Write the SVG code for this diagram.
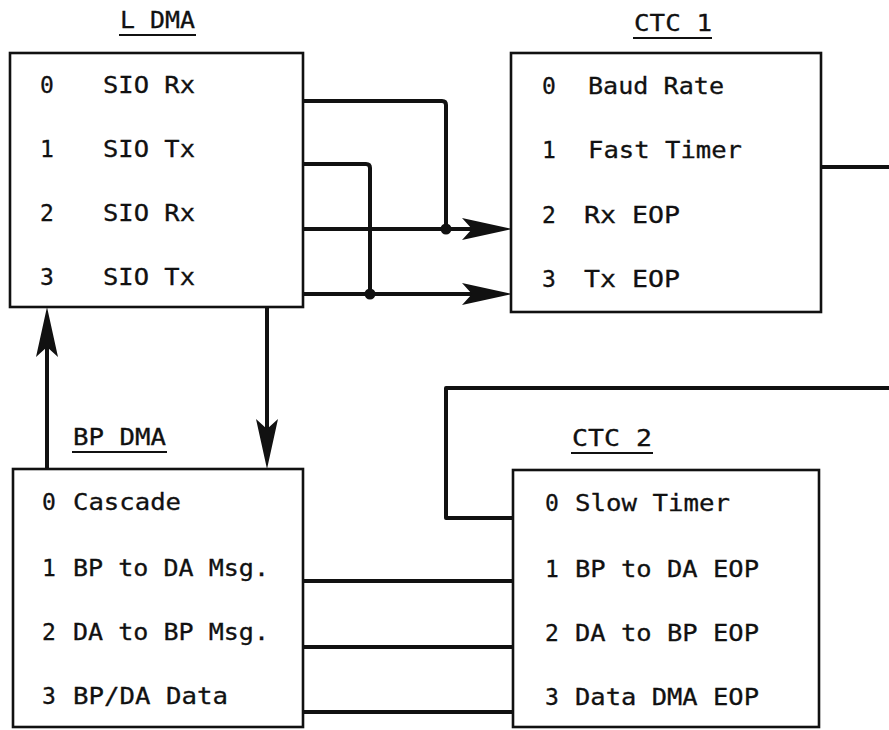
<svg xmlns="http://www.w3.org/2000/svg" width="889" height="730" viewBox="0 0 889 730">
<style>
.box{fill:#fff;stroke:#111;stroke-width:2.6}
.t{font-family:"DejaVu Sans Mono","Liberation Mono",monospace;font-size:23px;fill:#111;stroke:#111;stroke-width:0.3}
.title{font-family:"DejaVu Sans Mono","Liberation Mono",monospace;font-size:23px;fill:#111;stroke:#111;stroke-width:0.3}
.ul{stroke:#111;stroke-width:2}
.c{fill:none;stroke:#111;stroke-width:4;stroke-linejoin:round}
.dot{fill:#111}
</style>
<defs>
<marker id="ah" viewBox="0 0 50 22" refX="10" refY="11" markerWidth="50" markerHeight="22" markerUnits="userSpaceOnUse" orient="auto">
<path d="M0,0 L50,11 L0,22 L10,11 Z" fill="#111"/>
</marker>
</defs>
<rect width="889" height="730" fill="#fff"/>

<g id="connectors">
<path class="c" d="M303,101 H442 Q446,101 446,105 V229"/>
<path class="c" d="M303,229 H472" marker-end="url(#ah)"/>
<path class="c" d="M303,164 H366 Q370,164 370,168 V294"/>
<path class="c" d="M303,294 H472" marker-end="url(#ah)"/>
<circle class="dot" cx="446" cy="229" r="5.5"/>
<circle class="dot" cx="370" cy="294" r="5.5"/>
<path class="c" d="M47,469 V347" marker-end="url(#ah)"/>
<path class="c" d="M267,307 V429" marker-end="url(#ah)"/>
<path class="c" d="M821,167 H889"/>
<path class="c" d="M889,388 H446 V518 H513"/>
<path class="c" d="M303,581 H513"/>
<path class="c" d="M303,647 H513"/>
<path class="c" d="M303,712 H513"/>
</g>

<g id="ldma">
<text class="title" x="120" y="28" textLength="75" lengthAdjust="spacingAndGlyphs">L DMA</text>
<line class="ul" x1="119" y1="35" x2="196" y2="35"/>
<rect class="box" x="10" y="53" width="293" height="254"/>
<text class="t" x="40" y="93">0</text>
<text class="t" x="103" y="93" textLength="92" lengthAdjust="spacingAndGlyphs">SIO Rx</text>
<text class="t" x="40" y="157">1</text>
<text class="t" x="103" y="157" textLength="92" lengthAdjust="spacingAndGlyphs">SIO Tx</text>
<text class="t" x="40" y="221">2</text>
<text class="t" x="103" y="221" textLength="92" lengthAdjust="spacingAndGlyphs">SIO Rx</text>
<text class="t" x="40" y="285">3</text>
<text class="t" x="103" y="285" textLength="92" lengthAdjust="spacingAndGlyphs">SIO Tx</text>
</g>

<g id="ctc1">
<text class="title" x="634" y="31" textLength="78" lengthAdjust="spacingAndGlyphs">CTC 1</text>
<line class="ul" x1="633" y1="38" x2="712" y2="38"/>
<rect class="box" x="511" y="53" width="310" height="259"/>
<text class="t" x="542" y="94">0</text>
<text class="t" x="588" y="94" textLength="136" lengthAdjust="spacingAndGlyphs">Baud Rate</text>
<text class="t" x="542" y="158">1</text>
<text class="t" x="588" y="158" textLength="154" lengthAdjust="spacingAndGlyphs">Fast Timer</text>
<text class="t" x="542" y="223">2</text>
<text class="t" x="584" y="223" textLength="96" lengthAdjust="spacingAndGlyphs">Rx EOP</text>
<text class="t" x="542" y="287">3</text>
<text class="t" x="584" y="287" textLength="96" lengthAdjust="spacingAndGlyphs">Tx EOP</text>
</g>

<g id="bpdma">
<text class="title" x="73" y="445" textLength="93" lengthAdjust="spacingAndGlyphs">BP DMA</text>
<line class="ul" x1="72" y1="452" x2="167" y2="452"/>
<rect class="box" x="13" y="469" width="290" height="258"/>
<text class="t" x="42" y="510">0</text>
<text class="t" x="73" y="510" textLength="108" lengthAdjust="spacingAndGlyphs">Cascade</text>
<text class="t" x="42" y="576">1</text>
<text class="t" x="73" y="576" textLength="196" lengthAdjust="spacingAndGlyphs">BP to DA Msg.</text>
<text class="t" x="42" y="640">2</text>
<text class="t" x="73" y="640" textLength="196" lengthAdjust="spacingAndGlyphs">DA to BP Msg.</text>
<text class="t" x="42" y="704">3</text>
<text class="t" x="73" y="704" textLength="155" lengthAdjust="spacingAndGlyphs">BP/DA Data</text>
</g>

<g id="ctc2">
<text class="title" x="572" y="446" textLength="80" lengthAdjust="spacingAndGlyphs">CTC 2</text>
<line class="ul" x1="571" y1="453" x2="653" y2="453"/>
<rect class="box" x="513" y="470" width="306" height="257"/>
<text class="t" x="545" y="511">0</text>
<text class="t" x="575" y="511" textLength="155" lengthAdjust="spacingAndGlyphs">Slow Timer</text>
<text class="t" x="545" y="577">1</text>
<text class="t" x="575" y="577" textLength="184" lengthAdjust="spacingAndGlyphs">BP to DA EOP</text>
<text class="t" x="545" y="641">2</text>
<text class="t" x="575" y="641" textLength="184" lengthAdjust="spacingAndGlyphs">DA to BP EOP</text>
<text class="t" x="545" y="705">3</text>
<text class="t" x="575" y="705" textLength="184" lengthAdjust="spacingAndGlyphs">Data DMA EOP</text>
</g>
</svg>
